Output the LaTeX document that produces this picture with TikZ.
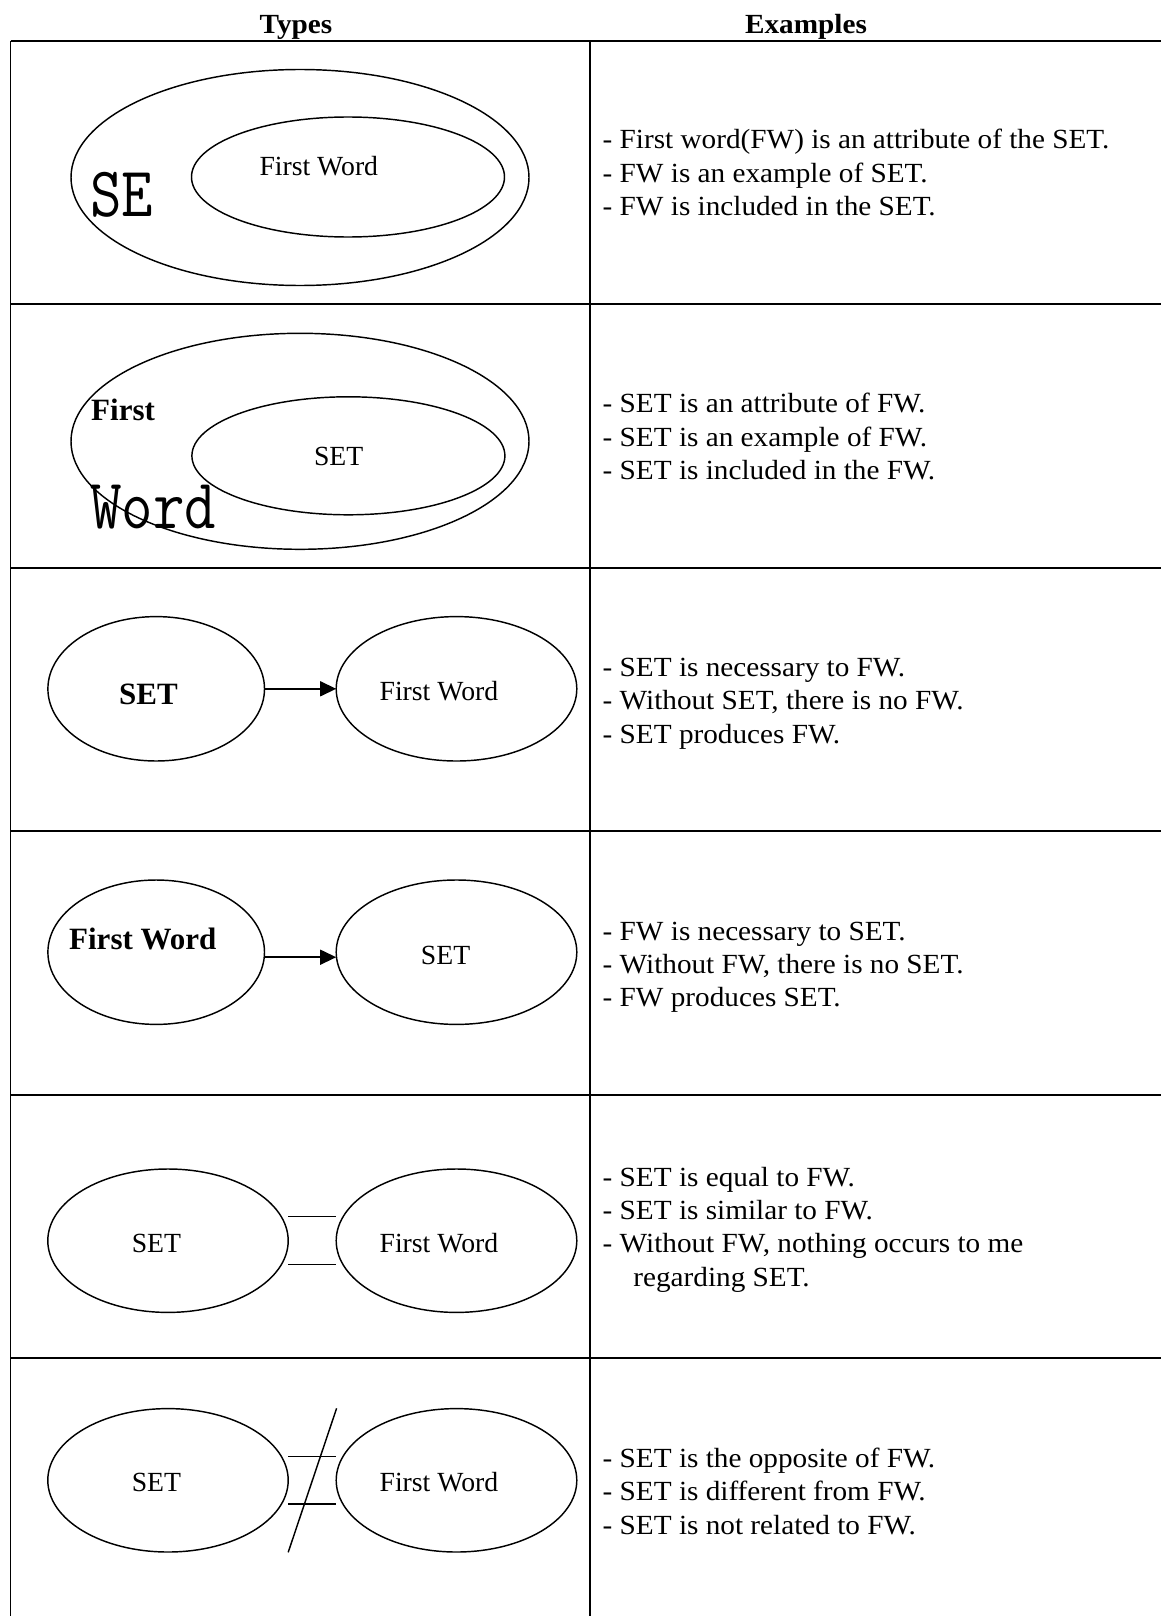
\documentclass[tikz,border=0pt]{standalone}
\usepackage{fontspec}
\setmainfont{Liberation Serif}
\newfontfamily\bodyfam[FakeStretch=1.055]{Liberation Serif}
\usepackage{graphicx}
\usetikzlibrary{calc,arrows.meta,shapes.geometric}

\begin{document}
\begin{tikzpicture}[x=1pt,y=-1pt,
  gridline/.style={line width=1.8pt},
  ell/.style={draw,ellipse,line width=1.45pt,inner sep=0pt,outer sep=0pt},
  body/.style={inner sep=0pt,anchor=base west,font=\fontsize{27.7pt}{33.4pt}\selectfont\bodyfam},
  lbl/.style={inner sep=0pt,anchor=base,font=\fontsize{27.7pt}{33.4pt}\selectfont},
  blbl/.style={inner sep=0pt,anchor=base,font=\fontsize{31pt}{36pt}\selectfont\bfseries},
  head/.style={inner sep=0pt,anchor=base,font=\fontsize{27.7pt}{33.4pt}\selectfont\bodyfam\bfseries},
  big/.style={inner sep=0pt,anchor=base west,font=\fontsize{71pt}{80pt}\selectfont\ttfamily},
  conn/.style={line width=1.45pt},
]
\useasboundingbox (0,0) rectangle (1161,1616);

% headers
\node[head] (hT) at (296,33.3) {Types};
\node[head] (hE) at (806,33.3) {Examples};

% table grid
\draw[gridline] (10.5,40.7) -- (1161,40.7);
\foreach \yy in {304.2,567.7,831.2,1094.7,1358.2}
  \draw[gridline] (10.5,\yy) -- (1161,\yy);
\draw[gridline] (10.5,40.7) -- (10.5,1616);
\draw[gridline] (590,40.7) -- (590,1616);

% Row 1
\node[ell,minimum width=458pt,minimum height=216pt] (O1) at (300,177.5) {};
\node[ell,minimum width=313pt,minimum height=120pt] (I1) at (348,177) {};
\node[lbl] (I1t) at (318.8,176) {First Word};
\node[big] (O1t) at (90,216) {\scalebox{0.86}[1]{SE}};

% Row 2
\node[ell,minimum width=458pt,minimum height=216pt] (O2) at (300,441.3) {};
\node[ell,minimum width=313pt,minimum height=118pt] (I2) at (348.4,455.8) {};
\node[blbl,anchor=base west] (O2a) at (91,420) {First};
\node[lbl] (I2t) at (338.7,465) {SET};
\node[big] (O2b) at (90,528.3) {\scalebox{0.86}[1]{Word}};

% Row 3
\node[ell,minimum width=216.6pt,minimum height=144.4pt] (A3) at (156.2,688.8) {};
\node[ell,minimum width=240.6pt,minimum height=144.4pt] (B3) at (456.5,688.8) {};
\node[blbl] (A3t) at (148.5,704) {SET};
\node[lbl] (B3t) at (438.9,700) {First Word};
\draw[conn,-{Triangle[length=16pt,width=15pt]}] (A3.east) -- (B3.west);

% Row 4
\node[ell,minimum width=216.6pt,minimum height=144.4pt] (A4) at (156.2,952.2) {};
\node[ell,minimum width=240.6pt,minimum height=144.4pt] (B4) at (456.5,952.2) {};
\node[blbl] (A4t) at (142.8,949.3) {First Word};
\node[lbl] (B4t) at (445.6,964) {SET};
\draw[conn,-{Triangle[length=16pt,width=15pt]}] ($(A4.east)+(0,5)$) -- ($(B4.west)+(0,5)$);

% Row 5
\node[ell,minimum width=240.4pt,minimum height=143.4pt] (A5) at (168,1240.7) {};
\node[ell,minimum width=240.6pt,minimum height=143.4pt] (B5) at (456.5,1240.7) {};
\node[lbl] (A5t) at (156.4,1252.7) {SET};
\node[lbl] (B5t) at (438.9,1252.7) {First Word};
\draw[conn] ($(A5.east)+(0,-24)$) -- ($(B5.west)+(0,-24)$);
\draw[conn] ($(A5.east)+(0,23.6)$) -- ($(B5.west)+(0,23.6)$);

% Row 6
\node[ell,minimum width=240.4pt,minimum height=143.4pt] (A6) at (168,1480.3) {};
\node[ell,minimum width=240.6pt,minimum height=143.4pt] (B6) at (456.5,1480.3) {};
\node[lbl] (A6t) at (156.4,1491.7) {SET};
\node[lbl] (B6t) at (438.9,1491.7) {First Word};
\draw[conn] ($(A6.east)+(0,-24)$) -- ($(B6.west)+(0,-24)$);
\draw[conn] ($(A6.east)+(0,23.7)$) -- ($(B6.west)+(0,23.7)$);
\coordinate (s6a) at ($(B6.west)+(0.4,-72)$);
\coordinate (s6b) at ($(A6.east)+(0,72)$);
\draw[conn] (s6a) -- (s6b);

% Examples text
\node[body] (e1a) at (602.5,148.5) {- First word(FW) is an attribute of the SET.};
\node[body] (e1b) at (602.5,182.2) {- FW is an example of SET.};
\node[body] (e1c) at (602.5,215.7) {- FW is included in the SET.};

\node[body] (e2a) at (602.5,412.7) {- SET is an attribute of FW.};
\node[body] (e2b) at (602.5,446.2) {- SET is an example of FW.};
\node[body] (e2c) at (602.5,479.5) {- SET is included in the FW.};

\node[body] (e3a) at (602.5,676) {- SET is necessary to FW.};
\node[body] (e3b) at (602.5,709.5) {- Without SET, there is no FW.};
\node[body] (e3c) at (602.5,743) {- SET produces FW.};

\node[body] (e4a) at (602.5,940) {- FW is necessary to SET.};
\node[body] (e4b) at (602.5,973.3) {- Without FW, there is no SET.};
\node[body] (e4c) at (602.5,1006.7) {- FW produces SET.};

\node[body] (e5a) at (602.5,1186) {- SET is equal to FW.};
\node[body] (e5b) at (602.5,1219.3) {- SET is similar to FW.};
\node[body] (e5c) at (602.5,1252.7) {- Without FW, nothing occurs to me};
\node[body] (e5d) at (633.2,1286) {regarding SET.};

\node[body] (e6a) at (602.5,1467.3) {- SET is the opposite of FW.};
\node[body] (e6b) at (602.5,1500.7) {- SET is different from FW.};
\node[body] (e6c) at (602.5,1534) {- SET is not related to FW.};
\end{tikzpicture}
\end{document}
